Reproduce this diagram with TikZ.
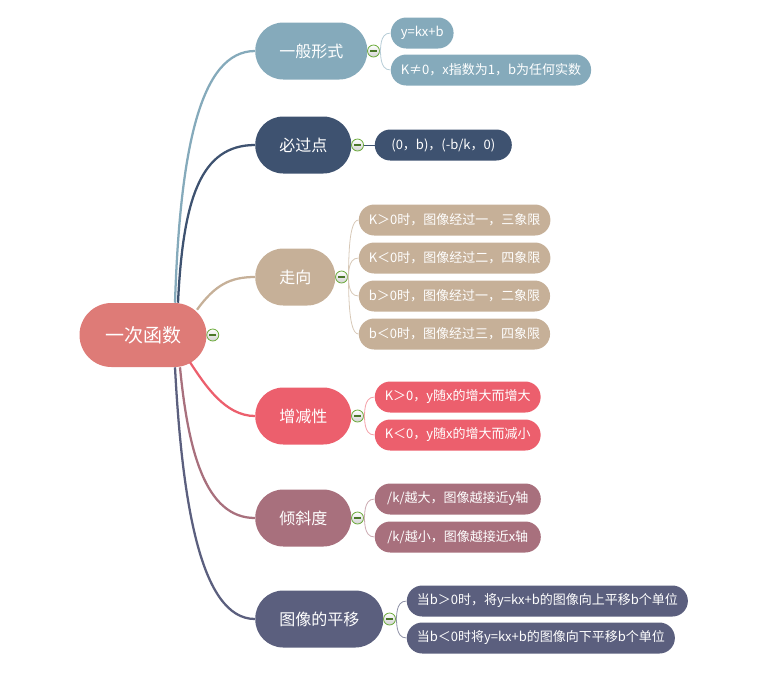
\documentclass[tikz,border=0pt]{standalone}
\usepackage{fontspec}
\setmainfont{Noto Sans CJK SC}
\usepackage{xcolor}
\usetikzlibrary{calc}

\definecolor{rootc}{HTML}{DE7B77}
\definecolor{formc}{HTML}{85AABB}
\definecolor{pointc}{HTML}{3E5270}
\definecolor{trendc}{HTML}{C6B098}
\definecolor{monoc}{HTML}{EC5F6D}
\definecolor{slopec}{HTML}{A8707D}
\definecolor{shiftc}{HTML}{5B5F7E}
\definecolor{foldc}{HTML}{6BAA3A}

\begin{document}
\begin{tikzpicture}[x=0.75pt,y=-0.75pt]
  \tikzstyle{root}=[rectangle,rounded corners=24pt,minimum width=95.25pt,minimum height=48pt,text=white,font=\fontsize{14.25}{16}\selectfont]
  \tikzstyle{topic}=[rectangle,rounded corners=21pt,minimum height=42.75pt,inner xsep=18pt,text=white,font=\fontsize{12}{14}\selectfont,anchor=west]
  \tikzstyle{leaf}=[rectangle,rounded corners=11.6pt,minimum height=23.25pt,inner xsep=7.5pt,text=white,font=\fontsize{9.75}{12}\selectfont,anchor=west]
  \tikzstyle{fold}=[circle,draw=foldc,line width=0.6pt,inner sep=0pt,minimum size=9pt,top color=white,bottom color=black!18,
    path picture={\draw[foldc!70!black,line width=0.8pt] ([xshift=-2.5pt]path picture bounding box.center) -- ([xshift=2.5pt]path picture bounding box.center);}]
  \tikzstyle{trunk}=[line width=1.7pt]
  \tikzstyle{twig}=[line width=0.6pt]
  \useasboundingbox (0,0) rectangle (760,676);

  % centre
  \node[root,fill=rootc] (fn) at (143,335) {一次函数};
  \node[fold] (f0) at ($(fn.east)+(6,0)$) {};

  % main topics
  \node[topic,fill=formc] (form) at (255,51) {一般形式};
  \node[topic,fill=pointc] (point) at (255,145) {必过点};
  \node[topic,fill=trendc] (trend) at (255,277) {走向};
  \node[topic,fill=monoc] (mono) at (255,416) {增减性};
  \node[topic,fill=slopec] (slope) at (255,518) {倾斜度};
  \node[topic,fill=shiftc] (shift) at (255,619) {图像的平移};

  \draw[trunk,formc] ($(fn.north)+(32,0)$) .. controls (180,150) and (200,51) .. (form.west);
  \draw[trunk,pointc] ($(fn.north)+(35,0)$) .. controls (183,200) and (200,145) .. (point.west);
  \draw[trunk,trendc] ($(fn.north)+(54,7)$) .. controls (215,285) and (230,277) .. (trend.west);
  \draw[trunk,monoc] ($(fn.south)+(47,-5)$) .. controls (205,385) and (225,416) .. (mono.west);
  \draw[trunk,slopec] ($(fn.south)+(37,0)$) .. controls (188,450) and (205,518) .. (slope.west);
  \draw[trunk,shiftc] ($(fn.south)+(32,0)$) .. controls (182,500) and (200,619) .. (shift.west);

  % fold buttons
  \node[fold] (f1) at ($(form.east)+(6,0)$) {};
  \node[fold] (f2) at ($(point.east)+(6,0)$) {};
  \node[fold] (f3) at ($(trend.east)+(6,0)$) {};
  \node[fold] (f4) at ($(mono.east)+(6,0)$) {};
  \node[fold] (f5) at ($(slope.east)+(6,0)$) {};
  \node[fold] (f6) at ($(shift.east)+(6,0)$) {};

  % leaves
  \node[leaf,fill=formc] (form1) at ($(f1)+(17,-18)$) {y=kx+b};
  \node[leaf,fill=formc] (form2) at ($(f1)+(17,19)$) {K≠0，x指数为1，b为任何实数};
  \node[leaf,fill=pointc,minimum width=102.75pt] (point1) at ($(f2)+(17,0)$) {(0，b)，(-b/k，0)};
  \node[leaf,fill=trendc] (trend1) at ($(f3)+(17,-57)$) {K＞0时，图像经过一，三象限};
  \node[leaf,fill=trendc] (trend2) at ($(f3)+(17,-19)$) {K＜0时，图像经过二，四象限};
  \node[leaf,fill=trendc] (trend3) at ($(f3)+(17,19)$) {b＞0时，图像经过一，二象限};
  \node[leaf,fill=trendc] (trend4) at ($(f3)+(17,57)$) {b＜0时，图像经过三，四象限};
  \node[leaf,fill=monoc] (mono1) at ($(f4)+(17,-19)$) {K＞0，y随x的增大而增大};
  \node[leaf,fill=monoc] (mono2) at ($(f4)+(17,19)$) {K＜0，y随x的增大而减小};
  \node[leaf,fill=slopec,minimum width=124.5pt] (slope1) at ($(f5)+(17,-19)$) {/k/越大，图像越接近y轴};
  \node[leaf,fill=slopec,minimum width=124.5pt] (slope2) at ($(f5)+(17,19)$) {/k/越小，图像越接近x轴};
  \node[leaf,fill=shiftc] (shift1) at ($(f6)+(17,-18)$) {当b＞0时，将y=kx+b的图像向上平移b个单位};
  \node[leaf,fill=shiftc] (shift2) at ($(f6)+(17,19)$) {当b＜0时将y=kx+b的图像向下平移b个单位};

  \foreach \a/\b/\c in {f1/form1/formc!60,f1/form2/formc!60,
      f3/trend1/trendc!70,f3/trend2/trendc!70,f3/trend3/trendc!70,f3/trend4/trendc!70,
      f4/mono1/monoc!60,f4/mono2/monoc!60,f5/slope1/slopec!60,f5/slope2/slopec!60,
      f6/shift1/shiftc!70,f6/shift2/shiftc!70}
    \draw[twig,\c] (\a) .. controls ($(\a)+(8,0)$) and ($(\b.west)+(-12,0)$) .. (\b.west);
  \draw[twig,pointc] (f2) -- (point1);
\end{tikzpicture}
\end{document}
